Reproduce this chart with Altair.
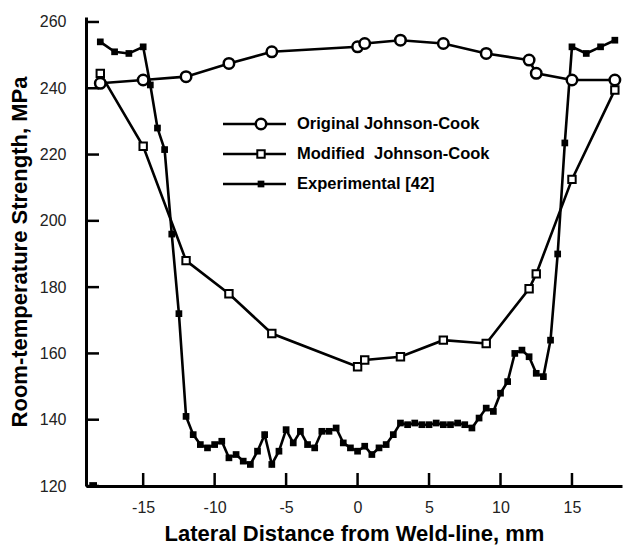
import altair as alt
import pandas as pd

# ---------------- data ----------------
x_orig = [-18, -15, -12, -9, -6, 0, 0.5, 3, 6, 9, 12, 12.5, 15, 18]
y_orig = [241.5, 242.5, 243.5, 247.5, 251, 252.5, 253.5, 254.5, 253.5, 250.5, 248.5, 244.5, 242.5, 242.5]

x_mod = [-18, -15, -12, -9, -6, 0, 0.5, 3, 6, 9, 12, 12.5, 15, 18]
y_mod = [244.5, 222.5, 188, 178, 166, 156, 158, 159, 164, 163, 179.5, 184, 212.5, 239.5]

x_exp = [-18, -17, -16, -15, -14.5, -14, -13.5, -13, -12.5, -12, -11.5, -11, -10.5, -10,
         -9.5, -9, -8.5, -8, -7.5, -7, -6.5, -6, -5.5, -5, -4.5, -4, -3.5, -3, -2.5, -2,
         -1.5, -1, -0.5, 0, 0.5, 1, 1.5, 2, 2.5, 3, 3.5, 4, 4.5, 5, 5.5, 6, 6.5, 7, 7.5,
         8, 8.5, 9, 9.5, 10, 10.5, 11, 11.5, 12, 12.5, 13, 13.5, 14, 14.5, 15, 16, 17, 18]
y_exp = [254, 251, 250.5, 252.5, 241, 228, 221.5, 196, 172, 141, 135.5, 132.5, 131.5, 132.5,
         133.5, 128.5, 129.5, 127.5, 126.5, 130.5, 135.5, 126.5, 130.5, 137, 133, 136.5, 132.5, 131.5, 136.5, 136.5,
         137.5, 133, 131.5, 130.5, 132, 129.5, 131.5, 132.5, 135.5, 139, 138.5, 139, 138.5, 138.5, 139, 138.5, 138.5, 139, 138.5,
         137.5, 140.5, 143.5, 142.5, 148, 151.5, 160, 161, 159, 154, 153, 164, 190, 223.5, 252.5, 250.5, 252.5, 254.5]

x_stray = [-18.5]
y_stray = [120]

series_names = ["Original Johnson-Cook", "Modified\u00a0 Johnson-Cook", "Experimental [42]"]

x_ticks = [-15, -10, -5, 0, 5, 10, 15]
y_ticks = [120, 140, 160, 180, 200, 220, 240, 260]

x_title = "Lateral Distance from Weld-line, mm"
y_title = "Room-temperature Strength, MPa"

# ---------------- layout ----------------
W, H = 536, 469
FONT = "Liberation Sans"

xs = alt.Scale(domain=[-19, 18.5], nice=False, zero=False)
ys = alt.Scale(domain=[120, 261.5], nice=False, zero=False)

x_axis = alt.Axis(values=x_ticks, title=x_title, ticks=False, grid=False,
                  domainColor="black", domainWidth=3, labelExpr="'' + datum.value",
                  labelFont=FONT, labelFontSize=16, labelColor="#222222", labelPadding=13,
                  titleFont=FONT, titleFontSize=22, titleFontWeight="bold", titleColor="black",
                  titlePadding=8)
y_axis = alt.Axis(values=y_ticks, title=y_title, ticks=False, grid=False,
                  domainColor="black", domainWidth=3, labelExpr="'' + datum.value",
                  labelFont=FONT, labelFontSize=16, labelColor="#222222", labelPadding=20,
                  titleFont=FONT, titleFontSize=22, titleFontWeight="bold", titleColor="black",
                  titlePadding=8)


def X(field="x"):
    return alt.X(f"{field}:Q", scale=xs, axis=x_axis)


def Y(field="y"):
    return alt.Y(f"{field}:Q", scale=ys, axis=y_axis)


df_orig = pd.DataFrame({"x": x_orig, "y": y_orig})
df_mod = pd.DataFrame({"x": x_mod, "y": y_mod})
df_exp = pd.DataFrame({"x": x_exp, "y": y_exp})
df_stray = pd.DataFrame({"x": x_stray, "y": y_stray})

LW = 2.6

orig_line = alt.Chart(df_orig).mark_line(color="black", strokeWidth=LW).encode(x=X(), y=Y())
orig_pts = alt.Chart(df_orig).mark_point(shape="circle", filled=True, fill="white", stroke="black",
                                         strokeWidth=2.5, size=110, opacity=1).encode(x=X(), y=Y())
mod_line = alt.Chart(df_mod).mark_line(color="black", strokeWidth=LW).encode(x=X(), y=Y())
mod_pts = alt.Chart(df_mod).mark_point(shape="square", filled=True, fill="white", stroke="black",
                                       strokeWidth=2, size=55, opacity=1).encode(x=X(), y=Y())
exp_line = alt.Chart(df_exp).mark_line(color="black", strokeWidth=LW).encode(x=X(), y=Y())
exp_pts = alt.Chart(df_exp).mark_point(shape="square", filled=True, color="black",
                                       size=45, opacity=1).encode(x=X(), y=Y())
stray_pt = alt.Chart(df_stray).mark_point(shape="square", filled=True, color="black",
                                          size=60, opacity=1, clip=True).encode(x=X(), y=Y())

# inward tick marks
xt = alt.Chart(pd.DataFrame({"x": x_ticks})).mark_rule(color="black", strokeWidth=2.5).encode(
    x=X(), y=alt.value(H), y2=alt.value(H - 13))
yt = alt.Chart(pd.DataFrame({"y": y_ticks})).mark_rule(color="black", strokeWidth=2.5).encode(
    y=Y(), x=alt.value(0), x2=alt.value(13))

# legend
leg_rows = [107, 137, 167]
LX0, LX1, LM, LT = 137, 200, 175, 211
legend_layers = []
marker_styles = [
    dict(shape="circle", filled=True, fill="white", stroke="black", strokeWidth=2.5, size=110, opacity=1),
    dict(shape="square", filled=True, fill="white", stroke="black", strokeWidth=2, size=55, opacity=1),
    dict(shape="square", filled=True, color="black", size=45, opacity=1),
]
for i, name in enumerate(series_names):
    ldf = pd.DataFrame({"name": [name]})
    legend_layers.append(
        alt.Chart(ldf).mark_rule(color="black", strokeWidth=LW).encode(
            x=alt.value(LX0), x2=alt.value(LX1), y=alt.value(leg_rows[i])))
    legend_layers.append(
        alt.Chart(ldf).mark_point(**marker_styles[i]).encode(
            x=alt.value(LM), y=alt.value(leg_rows[i])))
    legend_layers.append(
        alt.Chart(ldf).mark_text(align="left", baseline="middle", font=FONT, fontSize=16.5,
                                 fontWeight="bold", color="black").encode(
            x=alt.value(LT), y=alt.value(leg_rows[i]), text="name:N"))

chart = alt.layer(
    xt, yt,
    orig_line, mod_line, exp_line,
    orig_pts, mod_pts, exp_pts, stray_pt,
    *legend_layers,
).properties(
    width=W, height=H,
    autosize="none",
    padding={"left": 86, "top": 17, "right": 4, "bottom": 68},
    background="white",
).configure_view(stroke=None)

chart.save("out.html", embed_options={"renderer": "svg", "actions": False})
